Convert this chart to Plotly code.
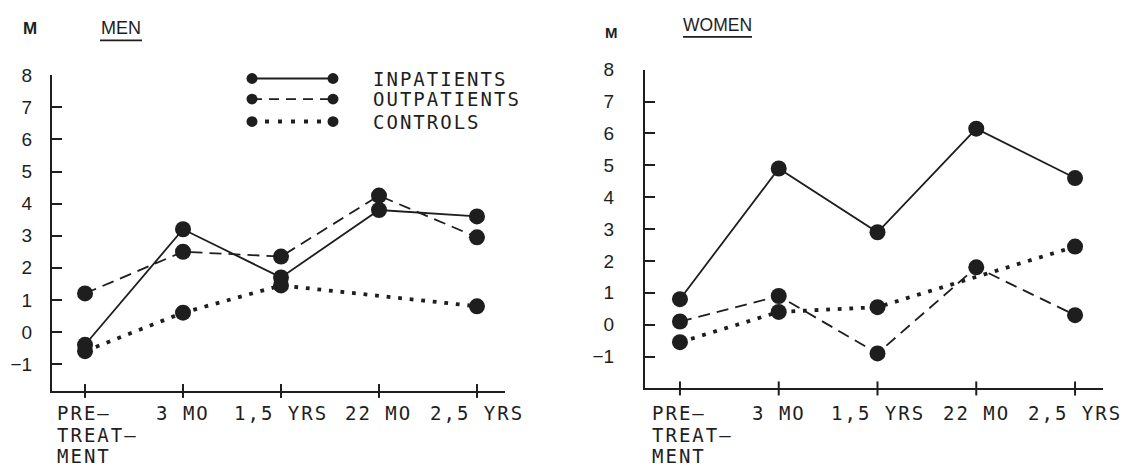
import plotly.graph_objects as go

categories = ["PRE-TREATMENT", "3 MO", "1,5 YRS", "22 MO", "2,5 YRS"]
tick_labels = ["PRE–<br>TREAT–<br>MENT", "3 MO", "1,5 YRS", "22 MO", "2,5 YRS"]
y_ticks = [-1, 0, 1, 2, 3, 4, 5, 6, 7, 8]

men_inpatients = [-0.4, 3.2, 1.7, 3.8, 3.6]
men_outpatients = [1.2, 2.5, 2.35, 4.25, 2.95]
men_controls = [-0.6, 0.6, 1.45, None, 0.8]

women_inpatients = [0.8, 4.9, 2.9, 6.15, 4.6]
women_outpatients = [0.1, 0.9, -0.9, 1.8, 0.3]
women_controls = [-0.55, 0.4, 0.55, None, 2.45]

series_names = ["INPATIENTS", "OUTPATIENTS", "CONTROLS"]

INK = "#1e1e1e"
W, H = 1138, 468
MONO = "DejaVu Sans Mono"
SANS = "Liberation Sans"
LS = "letter-spacing:2px"

styles = {
    "INPATIENTS": dict(width=1.8, dash="solid"),
    "OUTPATIENTS": dict(width=1.8, dash="12px,7px"),
    "CONTROLS": dict(width=3.8, dash="3.8px,7.8px"),
}

fig = go.Figure()

def add_panel(xa, ya, data):
    for name, vals in zip(series_names, data):
        fig.add_trace(go.Scatter(
            x=categories, y=vals, xaxis=xa, yaxis=ya, name=name,
            mode="lines+markers", connectgaps=True, showlegend=False,
            line=dict(color=INK, **styles[name]),
            marker=dict(size=16, color=INK),
            cliponaxis=False,
        ))

add_panel("x", "y", [men_inpatients, men_outpatients, men_controls])
add_panel("x2", "y2", [women_inpatients, women_outpatients, women_controls])

def px_x(p):
    return p / W

def px_y(p):
    return 1 - p / H

axis_common = dict(showgrid=False, zeroline=False, showline=True, linecolor=INK, linewidth=2)
ytick_common = dict(tickvals=y_ticks, ticks="inside", ticklen=10, tickwidth=2, tickcolor=INK,
                    tickfont=dict(family=SANS, size=19, color=INK))

fig.update_layout(
    width=W, height=H,
    margin=dict(l=0, r=0, t=0, b=0),
    paper_bgcolor="white", plot_bgcolor="white",
    xaxis=dict(domain=[px_x(52), px_x(505)], range=[-0.337, 4.286], type="category",
               anchor="y", showticklabels=False, ticks="", **axis_common),
    yaxis=dict(domain=[px_y(389.3), px_y(66.7)], range=[-1.84, 8], anchor="x",
               ticklabelstandoff=14, **ytick_common, **axis_common),
    xaxis2=dict(domain=[px_x(645), px_x(1102.7)], range=[-0.354, 4.28], type="category",
                anchor="y2", showticklabels=False, ticks="", **axis_common),
    yaxis2=dict(domain=[px_y(386.7), px_y(61)], range=[-2.0, 8], anchor="x2",
                ticklabelstandoff=25, **ytick_common, **axis_common),
)

shapes = []
annotations = []

def sp(t):
    return f'<span style="{LS}">{t}</span>'

# crossing x ticks and x labels
for xa, ya in [("x", "y"), ("x2", "y2")]:
    for i, (cat, lab) in enumerate(zip(categories, tick_labels)):
        shapes.append(dict(type="line", xref=xa, yref=f"{ya} domain", x0=cat, x1=cat,
                           y0=-0.022, y1=0.022, line=dict(color=INK, width=2)))
        lines = lab.split("<br>")
        for k, ln in enumerate(lines):
            if len(lines) > 1:
                annotations.append(dict(xref=xa, yref="paper", x=cat, y=px_y(412), text=sp(ln),
                                        showarrow=False, xanchor="left", yanchor="middle",
                                        xshift=-30, yshift=-21.5 * k,
                                        font=dict(family=MONO, size=19, color=INK)))
            else:
                annotations.append(dict(xref=xa, yref="paper", x=cat, y=px_y(412), text=sp(ln),
                                        showarrow=False, xanchor="center", yanchor="middle",
                                        font=dict(family=MONO, size=19, color=INK)))

# titles
annotations += [
    dict(xref="paper", yref="paper", x=px_x(30), y=px_y(18.5), text="<b>M</b>", showarrow=False,
         xanchor="center", yanchor="middle", font=dict(family=SANS, size=17, color=INK)),
    dict(xref="paper", yref="paper", x=px_x(121), y=px_y(18.5), text="MEN", showarrow=False,
         xanchor="center", yanchor="middle", font=dict(family=SANS, size=18, color=INK)),
    dict(xref="paper", yref="paper", x=px_x(611.5), y=px_y(22.5), text="<b>M</b>", showarrow=False,
         xanchor="center", yanchor="middle", font=dict(family=SANS, size=15, color=INK)),
    dict(xref="paper", yref="paper", x=px_x(717.5), y=px_y(15), text="WOMEN", showarrow=False,
         xanchor="center", yanchor="middle", font=dict(family=SANS, size=17.5, color=INK)),
]
shapes += [
    dict(type="line", xref="paper", yref="paper", x0=px_x(100), x1=px_x(142), y0=px_y(31), y1=px_y(31),
         line=dict(color=INK, width=1.6)),
    dict(type="line", xref="paper", yref="paper", x0=px_x(683), x1=px_x(752), y0=px_y(27.5), y1=px_y(27.5),
         line=dict(color=INK, width=1.6)),
]

# legend (drawn)
leg_y = [70, 91, 114]
leg_dash = {"INPATIENTS": ("solid", 1.8), "OUTPATIENTS": ("10px,7px", 1.8), "CONTROLS": ("4px,9px", 4)}
for name, yy in zip(series_names, leg_y):
    dash, lw = leg_dash[name]
    shapes.append(dict(type="line", xref="paper", yref="paper", x0=px_x(252), x1=px_x(333),
                       y0=px_y(yy), y1=px_y(yy), line=dict(color=INK, width=lw, dash=dash)))
    for cx in (252, 333):
        shapes.append(dict(type="circle", xref="paper", yref="paper",
                           x0=px_x(cx - 5.5), x1=px_x(cx + 5.5), y0=px_y(yy + 5.5), y1=px_y(yy - 5.5),
                           fillcolor=INK, line=dict(color=INK, width=0)))
    annotations.append(dict(xref="paper", yref="paper", x=px_x(371), y=px_y(yy), text=sp(name),
                            showarrow=False, xanchor="left", yanchor="middle",
                            font=dict(family=MONO, size=19, color=INK)))

fig.update_layout(shapes=shapes, annotations=annotations)

post = ("document.body.style.margin='0';"
        "var gd=document.getElementById('{plot_id}');"
        "gd.style.position='fixed';gd.style.left='0px';gd.style.top='0px';")
fig.write_html("out.html", post_script=post, config={"displayModeBar": False})
